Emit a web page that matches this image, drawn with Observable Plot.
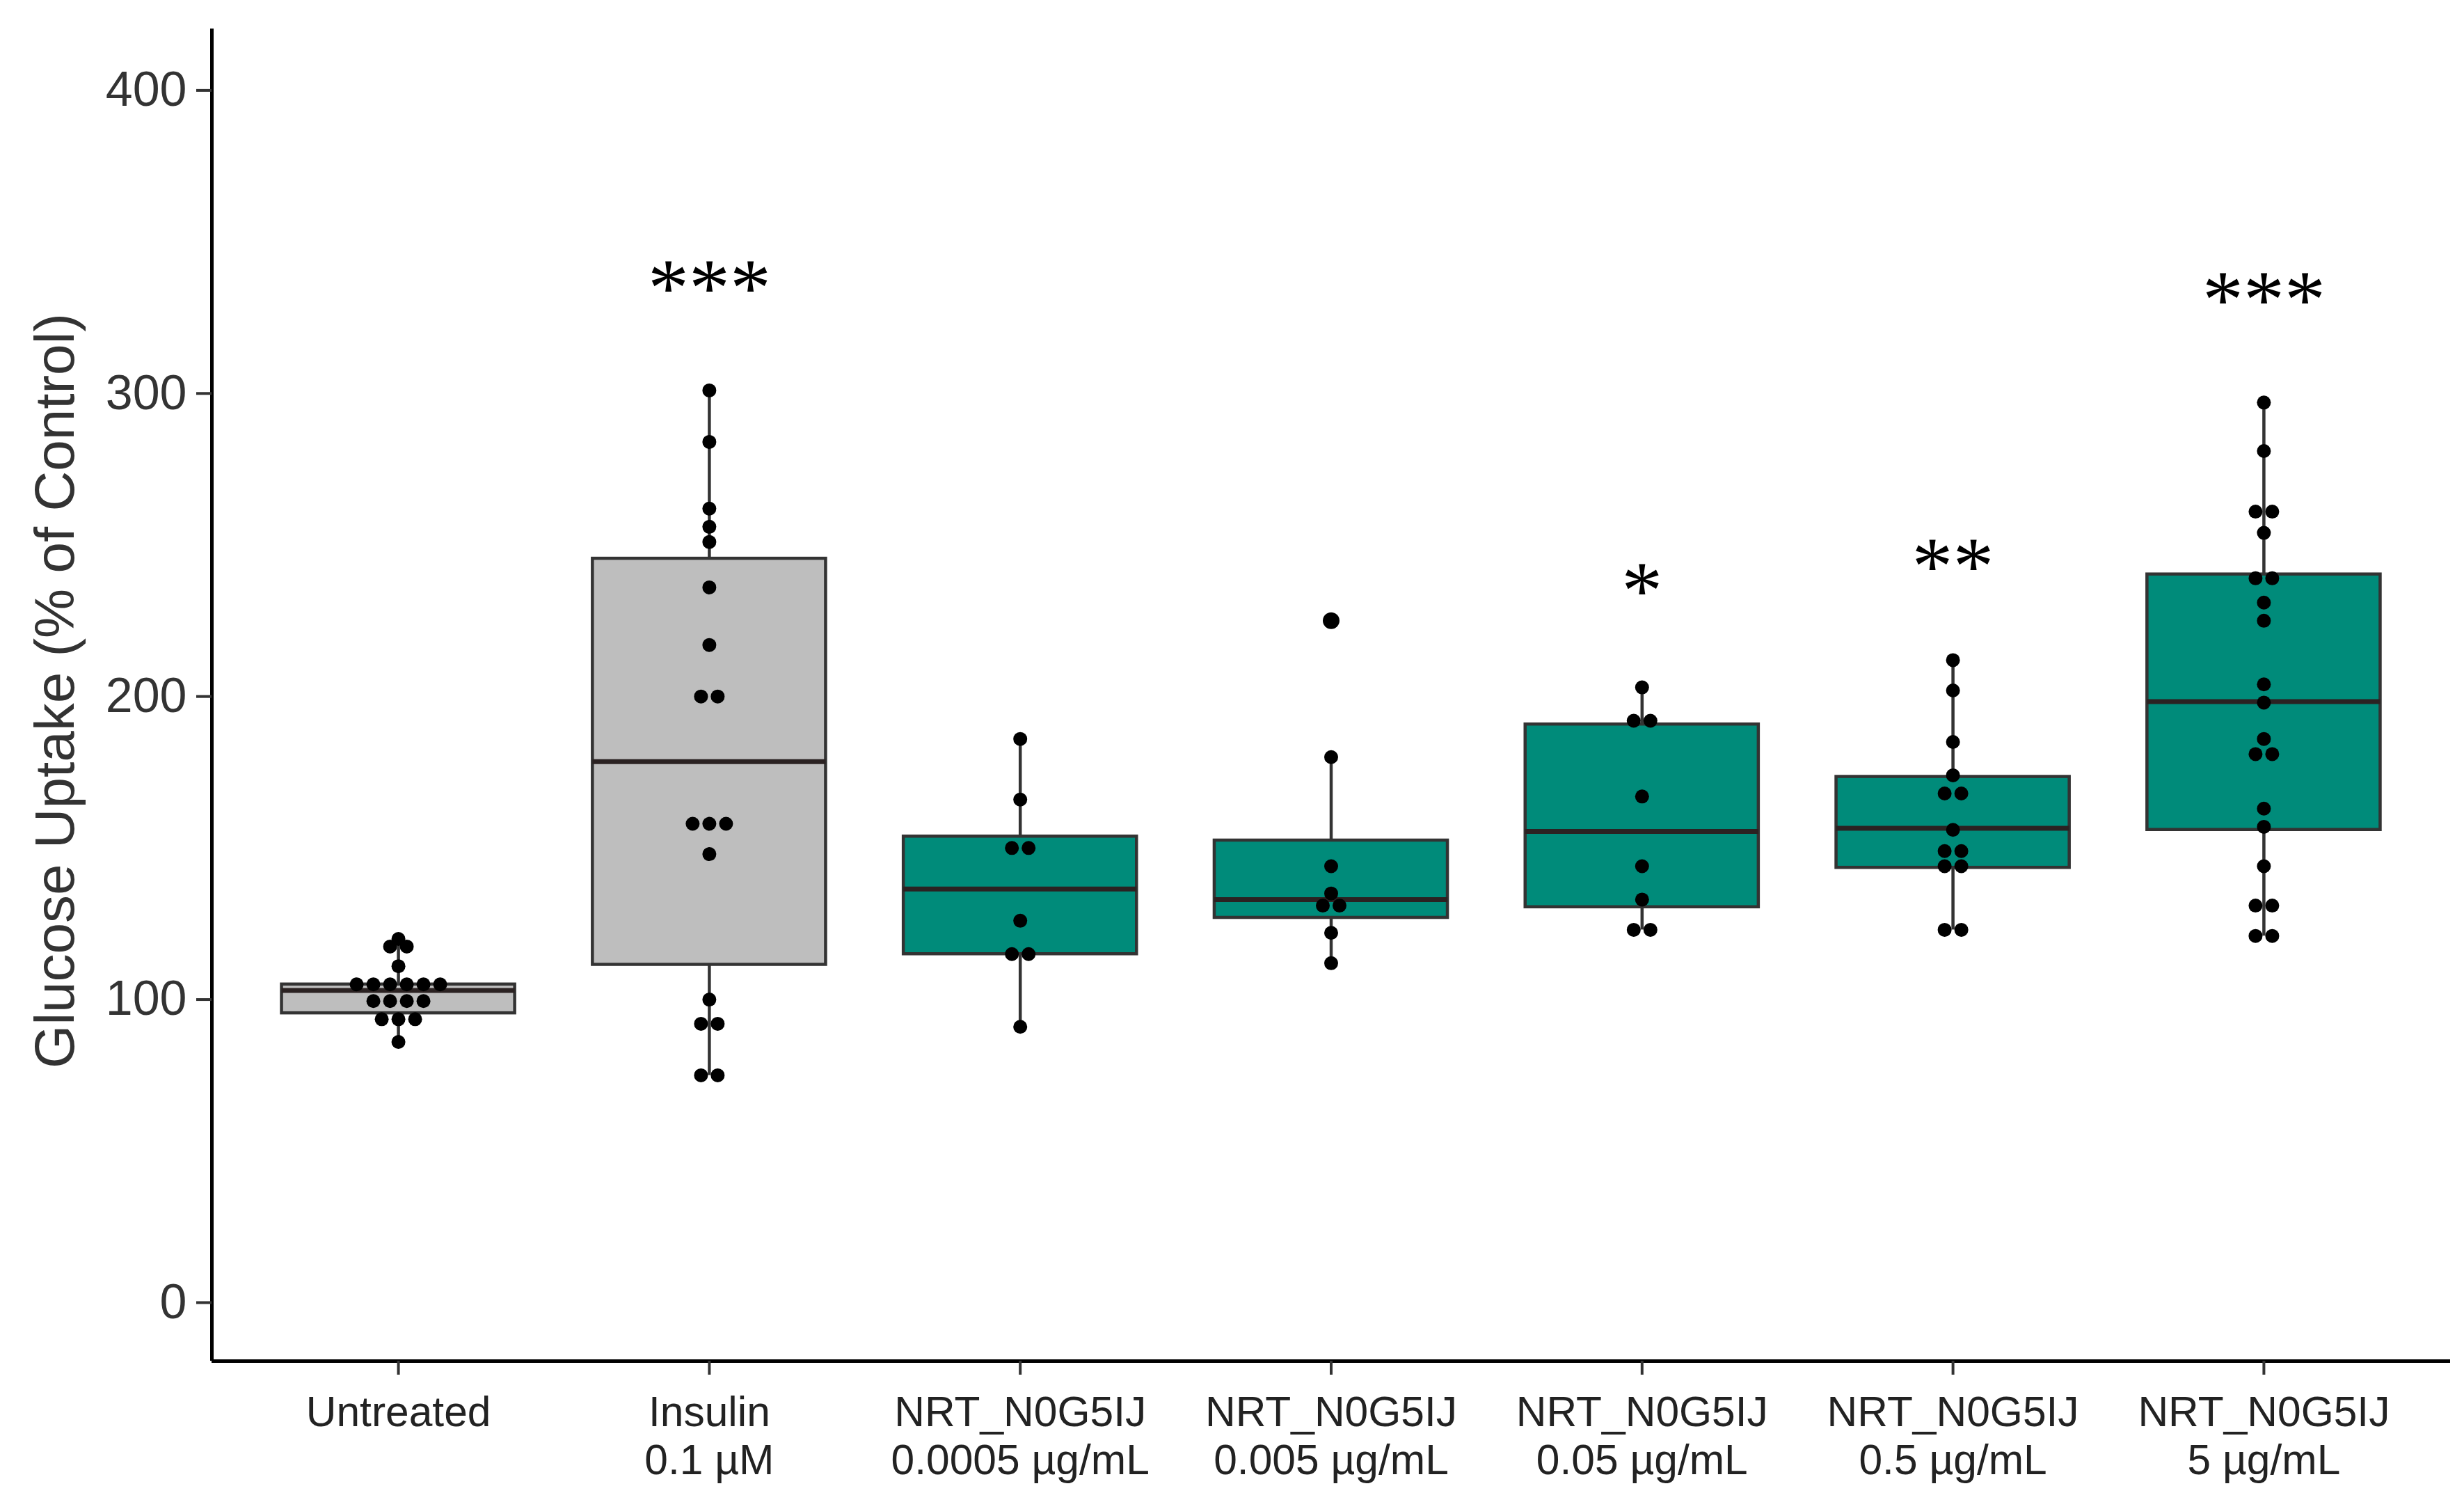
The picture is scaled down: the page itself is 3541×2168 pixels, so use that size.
<!DOCTYPE html>
<html>
<head>
<meta charset="utf-8">
<script src="https://cdn.jsdelivr.net/npm/d3@7"></script>
<script src="https://cdn.jsdelivr.net/npm/@observablehq/plot@0.6"></script>
<style>
html, body { margin: 0; padding: 0; background: #ffffff; }
#chart svg { display: block; }
</style>
</head>
<body>
<div id="chart"></div>
<script>
// ---- data ----
const categories = [
  "Untreated",
  "Insulin\n0.1 µM",
  "NRT_N0G5IJ\n0.0005 µg/mL",
  "NRT_N0G5IJ\n0.005 µg/mL",
  "NRT_N0G5IJ\n0.05 µg/mL",
  "NRT_N0G5IJ\n0.5 µg/mL",
  "NRT_N0G5IJ\n5 µg/mL"
];
const treatment = ["control", "control", "NRT", "NRT", "NRT", "NRT", "NRT"];

// box statistics
const q1 = [95.5, 111.5, 115, 127, 130.5, 143.5, 156];
const median = [103, 178.5, 136.5, 133, 155.5, 156.5, 198.3];
const q3 = [105, 245.5, 153.8, 152.5, 190.8, 173.5, 240.3];
const whiskerLow = [86, 75, 91, 112, 123, 123, 121];
const whiskerHigh = [120, 301, 186, 180, 203, 212, 297];

// individual observations (dot plot)
const untreated = [120, 117.5, 117.5, 111, 105, 105, 105, 105, 105, 105, 99.5, 99.5, 99.5, 99.5, 93.5, 93.5, 93.5, 86];
const insulin = [301, 284, 262, 256, 251, 236, 217, 200, 200, 158, 158, 158, 148, 100, 92, 92, 75, 75];
const nrt0005 = [186, 166, 150, 150, 126, 115, 115, 91];
const nrt005 = [225, 180, 144, 135, 131, 131, 122, 112];
const nrt05 = [203, 192, 192, 167, 144, 133, 123, 123];
const nrt5e1 = [212, 202, 185, 174, 168, 168, 156, 149, 149, 144, 144, 123, 123];
const nrt5 = [297, 281, 261, 261, 254, 239, 239, 231, 225, 204, 198, 186, 181, 181, 163, 157, 144, 131, 131, 121, 121];

// significance labels
const stars = ["", "***", "", "", "*", "**", "***"];
const starValue = [null, 337.5, null, null, 237.6, 245.6, 333.6];

const yTicks = [0, 100, 200, 300, 400];
const yDomain = [-19.3, 420.3];

// ---- layout / style ----
const W = 3541, H = 2168;
const ML = 304, MR = 20, MT = 41, MB = 213;
const xDomain = [0.4, 7.6];
const pxPerUnit = (W - ML - MR) / (xDomain[1] - xDomain[0]);
const DOT_STEP = 24;       // horizontal spacing of stacked dots (px)
const BOX_W = 0.75;
const fillFor = {control: "#BEBEBE", NRT: "#008B7A"};
const ink = "#333333";

// ---- derived tables ----
const groups = [untreated, insulin, nrt0005, nrt005, nrt05, nrt5e1, nrt5];
const boxes = categories.map((c, i) => ({
  i: i + 1, q1: q1[i], med: median[i], q3: q3[i],
  lo: whiskerLow[i], hi: whiskerHigh[i], fill: fillFor[treatment[i]]
}));
const dots = [];
const outliers = [];
groups.forEach((vals, gi) => {
  const counts = d3.rollup(vals, v => v.length, v => v);
  const seen = new Map();
  vals.forEach(v => {
    const n = counts.get(v);
    const k = seen.get(v) || 0;
    seen.set(v, k + 1);
    dots.push({x: gi + 1 + (k - (n - 1) / 2) * DOT_STEP / pxPerUnit, y: v});
    if (v > whiskerHigh[gi] || v < whiskerLow[gi]) outliers.push({x: gi + 1, y: v});
  });
});
const starData = stars.map((s, i) => ({i: i + 1, label: s, y: starValue[i]})).filter(d => d.label);
const labelData = categories.map((c, i) => ({i: i + 1, label: c}));

const chart = Plot.plot({
  width: W,
  height: H,
  marginLeft: ML,
  marginRight: MR,
  marginTop: MT,
  marginBottom: MB,
  style: {fontFamily: "'Liberation Sans', Arial, sans-serif", background: "#ffffff"},
  x: {type: "linear", domain: xDomain, axis: null},
  y: {domain: yDomain, axis: null},
  marks: [
    // whiskers
    Plot.ruleX(boxes, {x: "i", y1: "lo", y2: "q1", stroke: ink, strokeWidth: 4.5}),
    Plot.ruleX(boxes, {x: "i", y1: "q3", y2: "hi", stroke: ink, strokeWidth: 4.5}),
    // boxes
    Plot.rect(boxes, {
      x1: d => d.i - BOX_W / 2, x2: d => d.i + BOX_W / 2,
      y1: "q1", y2: "q3", fill: "fill", stroke: ink, strokeWidth: 4.5
    }),
    // medians
    Plot.ruleY(boxes, {
      x1: d => d.i - BOX_W / 2, x2: d => d.i + BOX_W / 2,
      y: "med", stroke: "#2b2222", strokeWidth: 7
    }),
    // outliers
    Plot.dot(outliers, {x: "x", y: "y", r: 12, fill: "#000", stroke: "none"}),
    // observations
    Plot.dot(dots, {x: "x", y: "y", r: 10, fill: "#000", stroke: "none"}),
    // significance stars
    Plot.text(starData, {
      x: "i", y: "y", text: "label",
      fontFamily: "'Liberation Serif', 'Times New Roman', serif",
      fontSize: 118, lineAnchor: "middle", dy: 13, fill: "#000"
    }),
    // axis lines
    Plot.ruleX([xDomain[0]], {stroke: "#000", strokeWidth: 5}),
    Plot.ruleY([yDomain[0]], {stroke: "#000", strokeWidth: 5}),
    // y axis
    Plot.axisY({
      ticks: yTicks, tickSize: 22, tickPadding: 14, fontSize: 70,
      color: ink, strokeWidth: 4, label: null
    }),
    // x axis ticks
    Plot.axisX({
      ticks: [1, 2, 3, 4, 5, 6, 7], tickSize: 20, tickFormat: () => "",
      color: ink, strokeWidth: 4, label: null
    }),
    // x tick labels
    Plot.text(labelData, {
      x: "i", y: () => yDomain[0], text: "label",
      lineAnchor: "top", dy: 44, lineHeight: 1.15, fontSize: 60.5, fill: "#222"
    }),
    // y axis title
    Plot.text(["Glucose Uptake (% of Control)"], {
      frameAnchor: "left", rotate: -90, dx: -224, dy: -6,
      fontSize: 80, lineAnchor: "middle", textAnchor: "middle", fill: ink
    })
  ]
});
document.getElementById("chart").append(chart);
</script>
</body>
</html>
